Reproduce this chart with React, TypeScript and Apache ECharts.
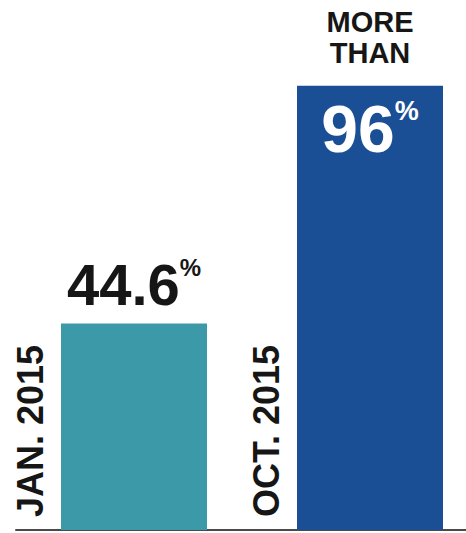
import React, { useEffect, useRef } from "react";
import * as echarts from "echarts";

const categories = ["JAN. 2015", "OCT. 2015"];
const values = [44.6, 96];
const valueTexts = ["44.6", "96"];
const notes = ["", "MORE\nTHAN"];
const barColors = ["#3c9aa8", "#1b4f95"];

const FONT = "'Liberation Sans', Arial, Helvetica, sans-serif";

export default function App() {
  const ref = useRef<HTMLDivElement>(null);
  useEffect(() => {
    if (!ref.current) return;
    const chart = echarts.init(ref.current, undefined, { renderer: "svg" });
    const topLabel = {
      show: true,
      position: "top",
      distance: 10,
      formatter: (p: any) => `{n|${valueTexts[p.dataIndex]}}{p|%}`,
      rich: {
        n: { fontFamily: FONT, fontWeight: "bold", fontSize: 58, lineHeight: 58, color: "#161616" },
        p: { fontFamily: FONT, fontWeight: "bold", fontSize: 24, lineHeight: 28, color: "#161616", verticalAlign: "top" },
      },
    };
    const insideLabel = {
      show: true,
      position: "insideTop",
      distance: 12,
      formatter: (p: any) => `{n|${valueTexts[p.dataIndex]}}{p|%}`,
      rich: {
        n: { fontFamily: FONT, fontWeight: "bold", fontSize: 66, lineHeight: 62, color: "#ffffff" },
        p: { fontFamily: FONT, fontWeight: "bold", fontSize: 27, lineHeight: 30, color: "#ffffff", verticalAlign: "top" },
      },
    };
    chart.setOption({
      animation: false,
      backgroundColor: "#ffffff",
      grid: { left: 16, top: 21, width: 472, height: 509, outerBoundsMode: "none", containLabel: false },
      xAxis: {
        type: "category",
        data: categories,
        axisTick: { show: false },
        axisLabel: { show: false },
        axisLine: { show: true, lineStyle: { color: "#4a4a4a", width: 2 } },
      },
      yAxis: { type: "value", min: 0, max: 110, show: false, splitLine: { show: false } },
      series: [
        {
          type: "bar",
          barWidth: 146,
          barGap: "-100%",
          data: values.map((v, i) => ({
            value: v,
            itemStyle: { color: barColors[i] },
            label: i === 1 ? insideLabel : topLabel,
          })),
        },
        {
          type: "bar",
          barWidth: 146,
          barGap: "-100%",
          silent: true,
          itemStyle: { color: "transparent" },
          label: {
            show: true,
            position: "top",
            distance: 17,
            formatter: (p: any) => notes[p.dataIndex],
            fontFamily: FONT,
            fontWeight: "bold",
            fontSize: 29,
            lineHeight: 31,
            color: "#161616",
            align: "center",
          },
          data: values,
        },
        {
          type: "bar",
          barWidth: 146,
          barGap: "-100%",
          silent: true,
          itemStyle: { color: "transparent" },
          label: {
            show: true,
            position: [-31, "100%"],
            rotate: 90,
            align: "left",
            verticalAlign: "middle",
            padding: [0, 0, 0, 13],
            formatter: (p: any) => categories[p.dataIndex],
            fontFamily: FONT,
            fontWeight: "bold",
            fontSize: 36,
            color: "#161616",
          },
          data: values,
        },
      ],
    });
    return () => chart.dispose();
  }, []);
  return (
    <div
      ref={ref}
      style={{ position: "fixed", left: 0, top: 0, width: 466, height: 533, background: "#fff" }}
    />
  );
}
